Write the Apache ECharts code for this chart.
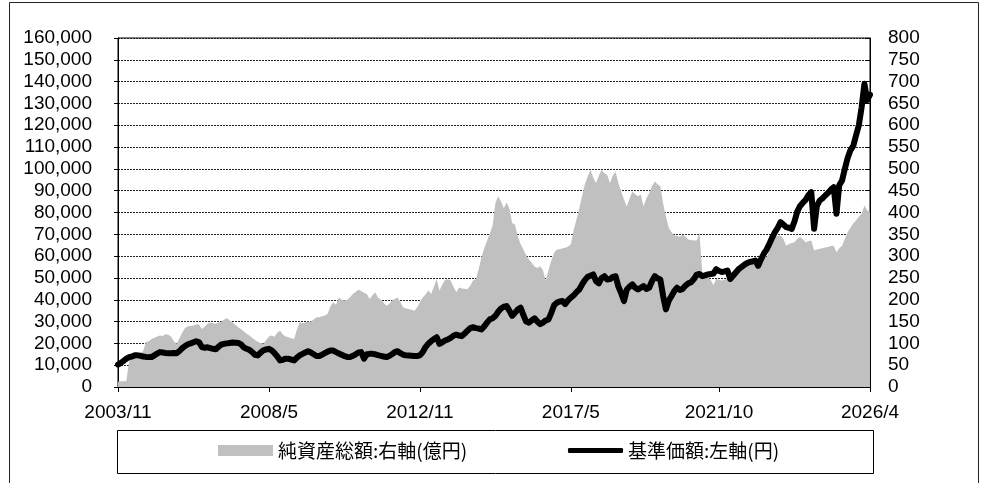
<!DOCTYPE html>
<html>
<head>
<meta charset="utf-8">
<script src="https://cdn.jsdelivr.net/npm/echarts@6/dist/echarts.min.js"></script>
<style>
  html, body { margin: 0; padding: 0; background: #fff; }
  #main { width: 984px; height: 483px; }
</style>
</head>
<body>
<div id="main"></div>
<script>
// 月次データ 2003/11 〜 2026/4
// 基準価額(円) 左軸
const navData = [
  10300, 11000, 12000, 13000, 13700, 14000, 14500, 14500, 14300, 14000, 13800, 13700,
  13700, 14500, 15300, 16000, 15800, 15600, 15500, 15500, 15600, 15500, 16500, 17800,
  18800, 19600, 20000, 20500, 21000, 20500, 18300, 18000, 18200, 17800, 17500, 17300,
  18500, 19500, 19800, 20000, 20200, 20400, 20300, 20200, 19500, 18200, 17500, 17000,
  16000, 14800, 14500, 15800, 16800, 17200, 17500, 16800, 15500, 14000, 12200, 12500,
  13000, 12900, 12600, 12200, 13500, 14500, 15200, 15800, 16400, 15800, 15000, 14200,
  14200, 14800, 15500, 16200, 16700, 16700, 16000, 15400, 14800, 14200, 13800, 13700,
  14300, 15000, 15800, 16000, 13000, 15000, 15200, 15200, 15000, 14600, 14300, 14000,
  13700, 14200, 15000, 16000, 16400, 15500, 14800, 14500, 14400, 14300, 14200, 14200,
  14500, 16000, 18300, 19800, 21000, 22000, 22800, 19800, 20500, 21300, 21800, 22500,
  23500, 24000, 23600, 23300, 24500, 25800, 27000, 27400, 27000, 26800, 26400, 27800,
  29500, 31000, 31500, 32600, 34500, 36000, 36800, 37100, 35000, 32600, 34000, 35500,
  36400, 33000, 30000, 29500, 30500, 31500, 30000, 28800, 29500, 30500, 31000, 34000,
  37500, 38700, 39200, 39400, 38000, 39800, 41000, 42000, 43500, 44700, 47000, 49000,
  50500, 51000, 51600, 48500, 47500, 50000, 50800, 49300, 49500, 50500, 50800, 46000,
  43000, 39400, 44700, 46000, 47000, 45500, 44700, 45500, 46300, 45000, 45500, 48500,
  50800, 49800, 49300, 41700, 35600, 39500, 41700, 44000, 45500, 44500, 45000, 46500,
  47500, 48000, 49500, 51500, 51800, 50800, 51200, 51600, 51800, 52000, 54000, 53200,
  52700, 53000, 53400, 49500, 51000, 52500, 54000, 55000, 56000, 56800, 57300, 57500,
  58000, 55500, 58500, 61100, 63000, 65600, 68500, 71000, 73000, 75600, 74500, 73300,
  73000, 72500, 76000, 80500, 83000, 84500, 85800, 88000, 89300, 72500, 83000, 85500,
  86500, 87800, 89000, 90500, 91600, 79400, 92500, 94700, 100000, 105000, 108500, 110500,
  115300, 120000, 128200, 139000, 131500, 134000
];

// 純資産総額(億円) 右軸
const assetData = [
  12, 13, 13, 14, 60, 66, 70, 74, 78, 82, 103, 105,
  110, 113, 116, 118, 117, 121, 120, 115, 105, 99, 112, 125,
  135, 139, 140, 141, 143, 143, 133, 138, 145, 148, 146, 145,
  148, 150, 155, 158, 152, 148, 142, 137, 133, 127, 122, 118,
  113, 108, 104, 101, 99, 108, 116, 118, 115, 125, 129, 120,
  116, 114, 112, 110, 132, 148, 146, 148, 150, 150, 155, 160,
  160, 162, 164, 168, 185, 194, 188, 205, 200, 198, 200, 206,
  213, 218, 223, 220, 216, 213, 202, 210, 217, 205, 200, 193,
  186, 190, 198, 202, 205, 195, 183, 180, 179, 177, 175, 182,
  195, 205, 212, 221, 213, 230, 247, 221, 235, 246, 247, 244,
  230, 217, 228, 226, 225, 224, 232, 244, 247, 270, 297, 318,
  335, 352, 370, 422, 437, 425, 410, 423, 410, 376, 372, 346,
  328, 315, 302, 292, 285, 276, 273, 277, 268, 243, 268, 290,
  308, 315, 316, 318, 319, 322, 327, 360, 384, 410, 437, 465,
  482, 498, 480, 467, 485, 498, 490, 486, 467, 485, 494, 467,
  448, 430, 414, 432, 448, 442, 437, 441, 414, 432, 444, 460,
  471, 465, 460, 420, 391, 365, 355, 348, 346, 345, 349, 345,
  338, 337, 336, 336, 353, 262, 256, 252, 245, 233, 248, 245,
  244, 246, 248, 248, 255, 260, 265, 270, 275, 278, 280, 281,
  282, 287, 292, 296, 298, 312, 328, 344, 346, 347, 340, 324,
  328, 330, 332, 340, 344, 338, 332, 334, 336, 313, 315, 317,
  318, 320, 321, 323, 324, 309, 318, 324, 340, 355, 365, 375,
  382, 390, 397, 416, 405, 400
];

// x軸に表示する目盛ラベル
const tickLabels = ['2003/11', '2008/5', '2012/11', '2017/5', '2021/10', '2026/4'];

const assetName = '純資産総額:右軸(億円)';
const navName = '基準価額:左軸(円)';

// 月のカテゴリ 2003/11 から
const months = [];
for (let i = 0; i < navData.length; i++) {
  const k = 10 + i;
  months.push((2003 + Math.floor(k / 12)) + '/' + (k % 12 + 1));
}

const showTick = (idx, val) => tickLabels.includes(val);
const numFont = 'Liberation Sans';
const jpFont = 'Noto Sans CJK JP';

const chart = echarts.init(document.getElementById('main'));
chart.setOption({
  animation: false,
  backgroundColor: '#fff',
  grid: {
    left: 118, right: 114, top: 38, bottom: 96,
    show: true, borderColor: '#000', borderWidth: 1, backgroundColor: 'transparent'
  },
  xAxis: {
    type: 'category',
    data: months,
    boundaryGap: false,
    axisLine: { lineStyle: { color: '#000', width: 1 } },
    axisTick: { interval: showTick, length: 5, lineStyle: { color: '#000' } },
    axisLabel: { interval: showTick, margin: 16, fontSize: 19, fontFamily: numFont, color: '#000' },
    splitLine: { show: false }
  },
  yAxis: [
    {
      type: 'value', min: 0, max: 160000, interval: 10000,
      axisLine: { show: true, lineStyle: { color: '#000' } },
      axisTick: { show: true, length: 4, lineStyle: { color: '#000' } },
      axisLabel: {
        margin: 26, fontSize: 19, fontFamily: numFont, color: '#000',
        formatter: v => v.toLocaleString('en-US')
      },
      splitLine: { show: true, lineStyle: { color: '#222', width: 1, type: [2, 1] } }
    },
    {
      type: 'value', min: 0, max: 800, interval: 50,
      axisLine: { show: true, lineStyle: { color: '#000' } },
      axisTick: { show: true, inside: true, length: 5, lineStyle: { color: '#000' } },
      axisLabel: { margin: 18, fontSize: 19, fontFamily: numFont, color: '#000' },
      splitLine: { show: false }
    }
  ],
  legend: [
    {
      data: [{ name: assetName, icon: 'rect', itemStyle: { color: '#c0c0c0' } }],
      left: 218, top: 441, padding: 0,
      itemWidth: 55, itemHeight: 11,
      selectedMode: false,
      textStyle: { fontSize: 19, fontFamily: jpFont, color: '#000' }
    },
    {
      data: [{ name: navName, icon: 'roundRect', itemStyle: { color: '#000' } }],
      left: 568, top: 441, padding: 0,
      itemWidth: 55, itemHeight: 5,
      selectedMode: false,
      textStyle: { fontSize: 19, fontFamily: jpFont, color: '#000' }
    }
  ],
  graphic: [
    {
      type: 'rect', silent: true,
      shape: { x: 9.5, y: 2.5, width: 969, height: 520 },
      style: { fill: 'none', stroke: '#222', lineWidth: 1 }
    },
    {
      type: 'rect', silent: true,
      shape: { x: 117.5, y: 430.5, width: 756, height: 43 },
      style: { fill: 'none', stroke: '#000', lineWidth: 1 }
    }
  ],
  series: [
    {
      name: assetName,
      type: 'line',
      yAxisIndex: 1,
      data: assetData,
      showSymbol: false,
      symbol: 'none',
      itemStyle: { color: '#c0c0c0' },
      lineStyle: { width: 0, color: '#c0c0c0' },
      areaStyle: { color: '#c0c0c0', opacity: 1 },
      z: 1
    },
    {
      name: navName,
      type: 'line',
      yAxisIndex: 0,
      data: navData,
      showSymbol: false,
      symbol: 'none',
      itemStyle: { color: '#000' },
      lineStyle: { width: 6, color: '#000', join: 'round', cap: 'round' },
      z: 3
    }
  ]
});
</script>
</body>
</html>
